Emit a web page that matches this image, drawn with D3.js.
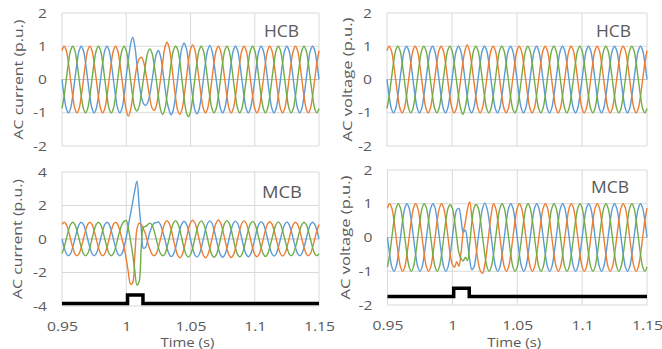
<!DOCTYPE html>
<html>
<head>
<meta charset="utf-8">
<script src="https://cdn.jsdelivr.net/npm/d3@7"></script>
<style>
  body { margin: 0; background: #fff; }
  text { font-family: "Open Sans", sans-serif; fill: #595959; }
</style>
</head>
<body>
<svg id="chart" width="662" height="349"></svg>
<script>
// samples every 1/600 s from 0.95 s (12 per 50 Hz cycle)
var sampleStart = 0.95, sampleStep = 1 / 600;

var timeTicks = [0.95, 1, 1.05, 1.1, 1.15];
var puTicks = [-2, -1, 0, 1, 2];
var currentTicksMcb = [-4, -2, 0, 2, 4];

// HCB, AC current
var ihcbA = [
  0,-.5,-.87,-1,-.87,-.5,0,.5,.87,1,.87,.5,
  0,-.5,-.87,-1,-.87,-.5,0,.5,.87,1,.87,.5,
  0,-.5,-.87,-1,-.87,-.5,.1,.6,1.05,1.27,1,.45,
  -.1,-.5,-.72,-.78,-.7,-.45,-.05,.4,.75,.87,.7,.3,
  -.2,-.65,-.92,-1.06,-.9,-.5,0,.55,.95,1.09,.95,.55,
  0,-.52,-.9,-1.03,-.9,-.52,0,.5,.87,1.02,.87,.5,
  0,-.5,-.87,-1,-.87,-.5,0,.5,.87,1,.87,.5,
  0,-.5,-.87,-1,-.87,-.5,0,.5,.87,1,.87,.5,
  0,-.5,-.87,-1,-.87,-.5,0,.5,.87,1,.87,.5,
  0,-.5,-.87,-1,-.87,-.5,0,.5,.87,1,.87,.5,
  0];
var ihcbB = [
  .87,1,.87,.5,0,-.5,-.87,-1,-.87,-.5,0,.5,
  .87,1,.87,.5,0,-.5,-.87,-1,-.87,-.5,0,.5,
  .87,1,.87,.5,0,-.5,-.92,-1.1,-.92,-.5,0,.4,
  .62,.67,.55,.25,-.15,-.55,-.85,-.93,-.8,-.45,0,.5,
  .95,1.12,.97,.56,0,-.53,-.92,-1.05,-.9,-.52,0,.52,
  .9,1.04,.9,.5,0,-.5,-.87,-1,-.87,-.5,0,.5,
  .87,1,.87,.5,0,-.5,-.87,-1,-.87,-.5,0,.5,
  .87,1,.87,.5,0,-.5,-.87,-1,-.87,-.5,0,.5,
  .87,1,.87,.5,0,-.5,-.87,-1,-.87,-.5,0,.5,
  .87,1,.87,.5,0,-.5,-.87,-1,-.87,-.5,0,.5,
  .87];
var ihcbC = [
  -.87,-.5,0,.5,.87,1,.87,.5,0,-.5,-.87,-1,
  -.87,-.5,0,.5,.87,1,.87,.5,0,-.5,-.87,-1,
  -.87,-.5,0,.5,.87,1,.87,.5,0,-.5,-.85,-.95,
  -.82,-.45,0,.45,.8,.92,.8,.45,0,-.5,-.9,-1.05,
  -.9,-.5,0,.5,.87,1,.9,.55,0,-.55,-.97,-1.12,
  -.97,-.55,0,.5,.87,1,.87,.5,0,-.5,-.87,-1,
  -.87,-.5,0,.5,.87,1,.87,.5,0,-.5,-.87,-1,
  -.87,-.5,0,.5,.87,1,.87,.5,0,-.5,-.87,-1,
  -.87,-.5,0,.5,.87,1,.87,.5,0,-.5,-.87,-1,
  -.87,-.5,0,.5,.87,1,.87,.5,0,-.5,-.87,-1,
  -.87];

// HCB, AC voltage
var vhcbA = [
  0,-.5,-.87,-1,-.87,-.5,0,.5,.87,1,.87,.5,
  0,-.5,-.87,-1,-.87,-.5,0,.5,.87,1,.87,.5,
  0,-.5,-.87,-1,-.87,-.5,0,.5,.87,1,.87,.5,
  0,-.5,-.87,-1,-.87,-.5,0,.5,.87,1,.87,.5,
  0,-.5,-.87,-1,-.87,-.5,0,.5,.87,1,.87,.5,
  0,-.5,-.87,-1,-.87,-.5,0,.5,.87,1,.87,.5,
  0,-.5,-.87,-1,-.87,-.5,0,.5,.87,1,.87,.5,
  0,-.5,-.87,-1,-.87,-.5,0,.5,.87,1,.87,.5,
  0,-.5,-.87,-1,-.87,-.5,0,.5,.87,1,.87,.5,
  0,-.5,-.87,-1,-.87,-.5,0,.5,.87,1,.87,.5,
  0];
var vhcbB = [
  .87,1,.87,.5,0,-.5,-.87,-1,-.87,-.5,0,.5,
  .87,1,.87,.5,0,-.5,-.87,-1,-.87,-.5,0,.5,
  .87,1,.87,.5,0,-.5,-.87,-1,-.87,-.5,0,.5,
  .87,1.04,.87,.5,0,-.5,-.87,-1,-.87,-.5,0,.5,
  .87,1,.87,.5,0,-.5,-.87,-1,-.87,-.5,0,.5,
  .87,1,.87,.5,0,-.5,-.87,-1,-.87,-.5,0,.5,
  .87,1,.87,.5,0,-.5,-.87,-1,-.87,-.5,0,.5,
  .87,1,.87,.5,0,-.5,-.87,-1,-.87,-.5,0,.5,
  .87,1,.87,.5,0,-.5,-.87,-1,-.87,-.5,0,.5,
  .87,1,.87,.5,0,-.5,-.87,-1,-.87,-.5,0,.5,
  .87];
var vhcbC = [
  -.87,-.5,0,.5,.87,1,.87,.5,0,-.5,-.87,-1,
  -.87,-.5,0,.5,.87,1,.87,.5,0,-.5,-.87,-1,
  -.87,-.5,0,.5,.87,1,.87,.5,0,-.5,-.87,-1.05,
  -.87,-.5,0,.5,.87,1,.87,.5,0,-.5,-.87,-1,
  -.87,-.5,0,.5,.87,1,.87,.5,0,-.5,-.87,-1,
  -.87,-.5,0,.5,.87,1,.87,.5,0,-.5,-.87,-1,
  -.87,-.5,0,.5,.87,1,.87,.5,0,-.5,-.87,-1,
  -.87,-.5,0,.5,.87,1,.87,.5,0,-.5,-.87,-1,
  -.87,-.5,0,.5,.87,1,.87,.5,0,-.5,-.87,-1,
  -.87,-.5,0,.5,.87,1,.87,.5,0,-.5,-.87,-1,
  -.87];

// MCB, AC current
var imcbA = [
  0,-.5,-.87,-1,-.87,-.5,0,.5,.87,1,.87,.5,
  0,-.5,-.87,-1,-.87,-.5,0,.5,.87,1,.87,.5,
  0,-.5,-.87,-1,-.87,-.5,.1,.8,1.5,2.2,2.9,3.45,
  2,.6,-.55,-.5,-.1,.4,.75,.95,.98,1.02,.85,.45,
  0,-.52,-.9,-1.05,-.92,-.55,0,.55,.92,1.06,.92,.55,
  0,-.55,-.94,-1.08,-.94,-.55,0,.55,.94,1.08,.94,.55,
  0,-.55,-.95,-1.1,-.95,-.55,0,.55,.94,1.07,.94,.54,
  0,-.54,-.92,-1.06,-.92,-.53,0,.53,.9,1.04,.9,.52,
  0,-.5,-.88,-1.02,-.88,-.5,0,.5,.87,1.02,.87,.5,
  0,-.5,-.87,-1,-.87,-.5,0,.5,.87,1,.87,.5,
  0];
var imcbB = [
  .87,1,.87,.5,0,-.5,-.87,-1,-.87,-.5,0,.5,
  .87,1,.87,.5,0,-.5,-.87,-1,-.87,-.5,0,.5,
  .87,1,.87,.5,0,-.5,-1.2,-2,-2.7,-2.6,-1,.6,
  .95,.85,.6,.3,-.2,-.6,-.9,-1,-.88,-.5,0,.52,
  .95,1.1,.95,.55,0,-.56,-.97,-1.12,-.97,-.56,0,.56,
  .97,1.12,.97,.56,0,-.56,-.97,-1.12,-.97,-.56,0,.56,
  .97,1.13,.97,.56,0,-.56,-.96,-1.1,-.96,-.55,0,.55,
  .94,1.08,.94,.54,0,-.54,-.92,-1.06,-.92,-.53,0,.52,
  .9,1.03,.9,.52,0,-.5,-.88,-1.02,-.88,-.5,0,.5,
  .87,1,.87,.5,0,-.5,-.87,-1,-.87,-.5,0,.5,
  .87];
var imcbC = [
  -.87,-.5,0,.5,.87,1,.87,.5,0,-.5,-.87,-1,
  -.87,-.5,0,.5,.87,1,.87,.5,0,-.5,-.87,-1,
  -.87,-.5,0,.5,.87,1.05,1.1,.6,-.1,-.9,-1.9,-2.75,
  -2.55,-.5,.7,.75,.85,.95,.85,.5,0,-.5,-.88,-1,
  -.9,-.52,0,.55,.95,1.1,.95,.55,0,-.55,-.94,-1.08,
  -.94,-.55,0,.55,.94,1.08,.94,.55,0,-.55,-.95,-1.1,
  -.95,-.55,0,.55,.95,1.1,.95,.55,0,-.55,-.93,-1.07,
  -.93,-.54,0,.53,.92,1.05,.92,.53,0,-.52,-.9,-1.04,
  -.9,-.5,0,.5,.88,1.02,.88,.5,0,-.5,-.87,-1,
  -.87,-.5,0,.5,.87,1,.87,.5,0,-.5,-.87,-1,
  -.87];

// MCB, AC voltage
var vmcbA = [
  0,-.5,-.87,-1,-.87,-.5,0,.5,.87,1,.87,.5,
  0,-.5,-.87,-1,-.87,-.5,0,.5,.87,1,.87,.5,
  0,-.5,-.87,-1,-.87,-.5,0,.5,.82,.86,.55,.15,
  .22,-.15,-.65,-.95,-.87,-.5,0,.5,.87,1.02,.87,.5,
  0,-.5,-.87,-1,-.87,-.5,0,.5,.87,1,.87,.5,
  0,-.5,-.87,-1,-.87,-.5,0,.5,.87,1,.87,.5,
  0,-.5,-.87,-1,-.87,-.5,0,.5,.87,1,.87,.5,
  0,-.5,-.87,-1,-.87,-.5,0,.5,.87,1,.87,.5,
  0,-.5,-.87,-1,-.87,-.5,0,.5,.87,1,.87,.5,
  0,-.5,-.87,-1,-.87,-.5,0,.5,.87,1,.87,.5,
  0];
var vmcbB = [
  .87,1,.87,.5,0,-.5,-.87,-1,-.87,-.5,0,.5,
  .87,1,.87,.5,0,-.5,-.87,-1,-.87,-.5,0,.5,
  .87,1,.87,.5,0,-.5,-.8,-.88,-.72,-.85,-.45,.15,
  .45,.85,1.06,.6,.2,-.3,-.75,-1,-1.06,-.8,-.35,.2,
  .7,1,.87,.5,0,-.5,-.87,-1,-.87,-.5,0,.5,
  .87,1,.87,.5,0,-.5,-.87,-1,-.87,-.5,0,.5,
  .87,1,.87,.5,0,-.5,-.87,-1,-.87,-.5,0,.5,
  .87,1,.87,.5,0,-.5,-.87,-1,-.87,-.5,0,.5,
  .87,1,.87,.5,0,-.5,-.87,-1,-.87,-.5,0,.5,
  .87,1,.87,.5,0,-.5,-.87,-1,-.87,-.5,0,.5,
  .87];
var vmcbC = [
  -.87,-.5,0,.5,.87,1,.87,.5,0,-.5,-.87,-1,
  -.87,-.5,0,.5,.87,1,.87,.5,0,-.5,-.87,-1,
  -.87,-.5,0,.5,.87,.97,.87,.5,0,-.45,-.62,-.7,
  -.58,-.68,-.2,.45,.87,.98,.87,.5,0,-.5,-.87,-1,
  -.87,-.5,0,.5,.87,1,.87,.5,0,-.5,-.87,-1,
  -.87,-.5,0,.5,.87,1,.87,.5,0,-.5,-.87,-1,
  -.87,-.5,0,.5,.87,1,.87,.5,0,-.5,-.87,-1,
  -.87,-.5,0,.5,.87,1,.87,.5,0,-.5,-.87,-1,
  -.87,-.5,0,.5,.87,1,.87,.5,0,-.5,-.87,-1,
  -.87,-.5,0,.5,.87,1,.87,.5,0,-.5,-.87,-1,
  -.87];

// breaker trip signal (black step)
var tripTime = [0.95, 1.001, 1.001, 1.013, 1.013, 1.15];
var tripInCurrent = [-3.85, -3.85, -3.35, -3.35, -3.85, -3.85];
var tripInVoltage = [-1.75, -1.75, -1.5, -1.5, -1.75, -1.75];

var phaseColors = ["#5b9bd5", "#ed7d31", "#70ad47"];

var panels = [
  {left: 62, right: 319, top: 13, bottom: 146, yDomain: [-2, 2], yTicks: puTicks,
   title: "AC current (p.u.)", titleX: 18, titleLen: 120, tag: "HCB", tagX: 299, tagY: 37, tagLen: 35,
   series: [ihcbA, ihcbB, ihcbC], trip: null, xLabels: false},
  {left: 387, right: 647, top: 13, bottom: 146, yDomain: [-2, 2], yTicks: puTicks,
   title: "AC voltage (p.u.)", titleX: 347, titleLen: 124, tag: "HCB", tagX: 631, tagY: 37, tagLen: 35,
   series: [vhcbA, vhcbB, vhcbC], trip: null, xLabels: false},
  {left: 62, right: 319, top: 172, bottom: 306, yDomain: [-4, 4], yTicks: currentTicksMcb,
   title: "AC current (p.u.)", titleX: 17, titleLen: 120, tag: "MCB", tagX: 302, tagY: 198, tagLen: 40,
   series: [imcbA, imcbB, imcbC], trip: tripInCurrent, xLabels: true},
  {left: 387.5, right: 647, top: 170, bottom: 305, yDomain: [-2, 2], yTicks: puTicks,
   title: "AC voltage (p.u.)", titleX: 345, titleLen: 124, tag: "MCB", tagX: 629, tagY: 193, tagLen: 38,
   series: [vmcbA, vmcbB, vmcbC], trip: tripInVoltage, xLabels: true}
];

var svg = d3.select("#chart");

panels.forEach(function (p) {
  var x = d3.scaleLinear().domain([0.95, 1.15]).range([p.left, p.right]);
  var y = d3.scaleLinear().domain(p.yDomain).range([p.bottom, p.top]);
  var g = svg.append("g");

  g.append("g").selectAll("line")
    .data(timeTicks)
    .enter().append("line")
    .attr("x1", d => x(d)).attr("x2", d => x(d))
    .attr("y1", p.top).attr("y2", p.bottom)
    .attr("stroke", "#d9d9d9").attr("stroke-width", 1);

  g.append("g").selectAll("line")
    .data(p.yTicks)
    .enter().append("line")
    .attr("x1", p.left).attr("x2", p.right)
    .attr("y1", d => y(d)).attr("y2", d => y(d))
    .attr("stroke", d => d === 0 ? "#bfbfbf" : "#d9d9d9").attr("stroke-width", 1);

  var yAxis = g.append("g")
    .attr("transform", "translate(" + p.left + ",0)")
    .call(d3.axisLeft(y).tickValues(p.yTicks).tickSize(0).tickPadding(12.5).tickFormat(d => String(d)));
  yAxis.select(".domain").remove();
  yAxis.selectAll("text").style("font-size", "13px").attr("transform", "scale(1.2,1)");

  if (p.xLabels) {
    var xAxis = g.append("g")
      .attr("transform", "translate(0," + p.bottom + ")")
      .call(d3.axisBottom(x).tickValues(timeTicks).tickSize(0).tickPadding(16).tickFormat(d => String(d)));
    xAxis.select(".domain").remove();
    xAxis.selectAll("text").style("font-size", "12.5px").attr("transform", "scale(1.26,1)");

    g.append("text")
      .attr("x", (p.left + p.right) / 2 - 3)
      .attr("y", 346.5)
      .attr("text-anchor", "middle")
      .attr("textLength", 54)
      .attr("lengthAdjust", "spacingAndGlyphs")
      .style("font-size", "12.5px")
      .text("Time (s)");
  }

  g.append("text")
    .attr("transform", "translate(" + p.titleX + "," + ((p.top + p.bottom) / 2) + ")rotate(-90)")
    .attr("text-anchor", "middle")
    .attr("dy", "0.35em")
    .attr("textLength", p.titleLen)
    .attr("lengthAdjust", "spacingAndGlyphs")
    .style("font-size", "13.5px")
    .text(p.title);

  g.append("text")
    .attr("x", p.tagX).attr("y", p.tagY)
    .attr("text-anchor", "end")
    .attr("textLength", p.tagLen)
    .attr("lengthAdjust", "spacingAndGlyphs")
    .style("font-size", "15.5px")
    .text(p.tag);

  var line = d3.line()
    .x((d, i) => x(sampleStart + i * sampleStep))
    .y(d => y(d))
    .curve(d3.curveCatmullRom.alpha(0.5));

  p.series.forEach(function (values, k) {
    g.append("path")
      .datum(values)
      .attr("fill", "none")
      .attr("stroke", phaseColors[k])
      .attr("stroke-width", 1.4)
      .attr("d", line);
  });

  if (p.trip) {
    g.append("path")
      .datum(p.trip)
      .attr("fill", "none")
      .attr("stroke", "#000")
      .attr("stroke-width", 3.5)
      .attr("d", d3.line()
        .x((d, i) => x(tripTime[i]))
        .y(d => y(d)));
  }
});
</script>
</body>
</html>
